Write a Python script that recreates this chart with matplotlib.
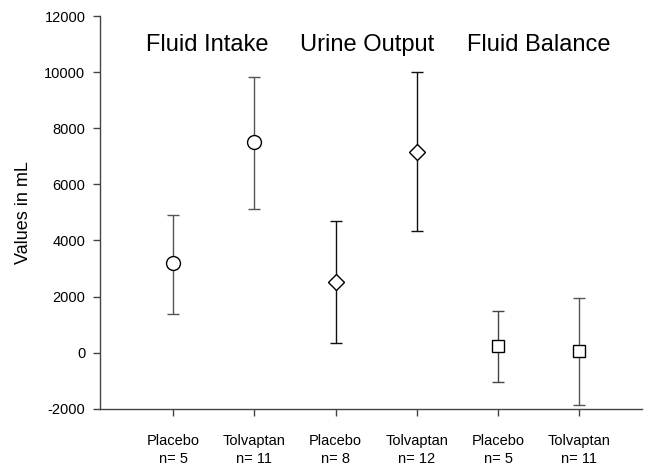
import matplotlib
matplotlib.use("Agg")
import matplotlib.pyplot as plt

plt.rcParams["font.family"] = ["Liberation Sans", "DejaVu Sans"]
plt.rcParams["axes.unicode_minus"] = False

# group means and error bar ends (mL)
groups = ["Fluid Intake", "Urine Output", "Fluid Balance"]
labels = ["Placebo\nn= 5", "Tolvaptan\nn= 11", "Placebo\nn= 8",
          "Tolvaptan\nn= 12", "Placebo\nn= 5", "Tolvaptan\nn= 11"]
means = [3180, 7510, 2530, 7160, 225, 45]
upper = [4920, 9840, 4680, 9990, 1470, 1940]
lower = [1370, 5130, 350, 4350, -1040, -1860]
markers = ["o", "o", "D", "D", "s", "s"]
bar_colors = ["#555555", "#555555", "#111111", "#111111", "#444444", "#555555"]
title_x = [1.42, 3.39, 5.5]

fig = plt.figure(figsize=(6.51, 4.68), dpi=100)
ax = fig.add_axes([0.1536, 0.1267, 0.986 - 0.1536, 0.9658 - 0.1267])

xs = list(range(1, len(means) + 1))
for x, m, hi, lo, mk, c in zip(xs, means, upper, lower, markers, bar_colors):
    ms = {"o": 10, "D": 8.5, "s": 9}[mk]
    ax.errorbar([x], [m], yerr=[[m - lo], [hi - m]], fmt=mk, ms=ms,
                mfc="white", mec="black", mew=1.0, ecolor=c, elinewidth=1.0,
                capsize=4, capthick=1.0, zorder=3)

for tx, g in zip(title_x, groups):
    ax.text(tx, 10950, g, ha="center", va="center", fontsize=17)

ax.set_xlim(0.1, 6.77)
ax.set_ylim(-2000, 12000)
ax.set_yticks(range(-2000, 12001, 2000))
ax.set_xticks(xs)
ax.set_xticklabels(labels, fontsize=10.5, linespacing=1.4)
ax.tick_params(axis="y", labelsize=10.5, length=5, width=1, color="#444444", pad=5.5)
ax.tick_params(axis="x", length=5, width=1, color="#444444", pad=13)
ax.set_ylabel("Values in mL", fontsize=13, labelpad=9)

for side in ["top", "right"]:
    ax.spines[side].set_visible(False)
for side in ["left", "bottom"]:
    ax.spines[side].set_color("#444444")
    ax.spines[side].set_linewidth(1.0)

fig.savefig("out.png", dpi=100)
